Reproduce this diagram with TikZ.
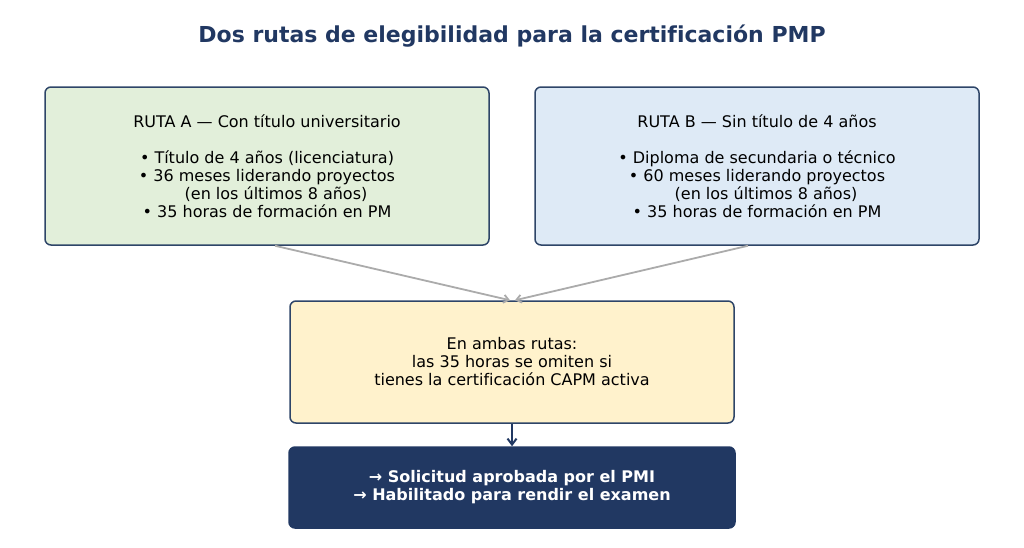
\documentclass[tikz,border=0pt]{standalone}
\usepackage{fontspec}
\setmainfont[Ligatures=NoCommon]{DejaVu Sans}
\usepackage{tikz}
\usetikzlibrary{arrows.meta,positioning}
\definecolor{pmpnavy}{HTML}{213862}
\definecolor{pmpedge}{HTML}{2E4568}
\definecolor{pmpgreen}{HTML}{E2EFDA}
\definecolor{pmpblue}{HTML}{DEEAF6}
\definecolor{pmpyellow}{HTML}{FFF2CC}
\definecolor{pmpgray}{HTML}{ABABAB}
\tikzset{
  ruta/.style={draw=pmpedge, line width=1.5pt, rounded corners=6pt, align=center, minimum width=444pt, minimum height=158pt, inner sep=0pt, font=\fontsize{16}{18}\selectfont},
  rutaA/.style={ruta, fill=pmpgreen},
  rutaB/.style={ruta, fill=pmpblue},
  nota/.style={ruta, fill=pmpyellow, minimum height=122pt},
  final/.style={draw=pmpnavy, fill=pmpnavy, line width=1.5pt, rounded corners=6pt, align=center, minimum width=446pt, minimum height=81pt, text=white, font=\fontsize{16}{18}\selectfont\bfseries},
  merge/.style={-{Straight Barb[length=5pt,width=8pt]}, line width=1.8pt, draw=pmpgray},
  arrow/.style={-{Straight Barb[length=6pt,width=9pt]}, line width=2pt, draw=pmpnavy}
}

\begin{document}
\begin{tikzpicture}[x=1pt, y=-1pt]
  \useasboundingbox (0,0) rectangle (1024,547);
  \node[font=\fontsize{22}{26}\selectfont\bfseries, text=pmpnavy] (title) at (512,36) {Dos rutas de elegibilidad para la certificación PMP};

  \node[rutaA] (rutaa) at (267,166) {RUTA A — Con título universitario\\[18pt]
    • Título de 4 años (licenciatura)\\
    • 36 meses liderando proyectos\\
    \hspace*{18pt}(en los últimos 8 años)\\
    • 35 horas de formación en PM};
  \node[rutaB] (rutab) at (757,166) {RUTA B — Sin título de 4 años\\[18pt]
    • Diploma de secundaria o técnico\\
    • 60 meses liderando proyectos\\
    \hspace*{18pt}(en los últimos 8 años)\\
    • 35 horas de formación en PM};

  \node[nota] (ambas) at (512,362) {En ambas rutas:\\
    las 35 horas se omiten si\\
    tienes la certificación CAPM activa};
  \node[final] (aprobada) at (512,487.5) {→ Solicitud aprobada por el PMI\\
    → Habilitado para rendir el examen};

  \draw[merge] ([xshift=8pt]rutaa.south) -- ([xshift=-2pt]ambas.north);
  \draw[merge] ([xshift=-9pt]rutab.south) -- ([xshift=3pt]ambas.north);
  \draw[arrow] (ambas) -- (aprobada);
\end{tikzpicture}
\end{document}
